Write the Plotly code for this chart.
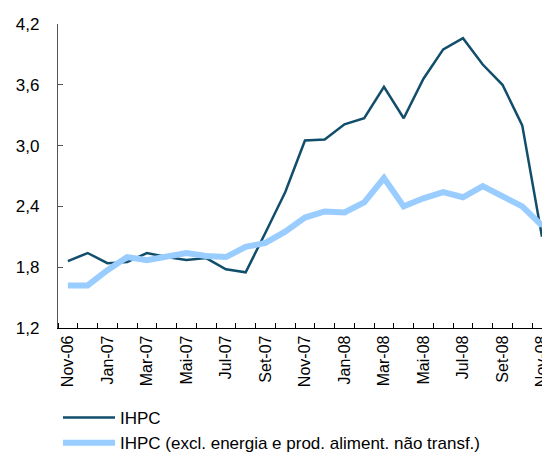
import plotly.graph_objects as go

# monthly series, Nov-06 .. Nov-08
months = ["Nov-06", "Dez-06", "Jan-07", "Fev-07", "Mar-07", "Abr-07", "Mai-07",
          "Jun-07", "Jul-07", "Ago-07", "Set-07", "Out-07", "Nov-07", "Dez-07",
          "Jan-08", "Fev-08", "Mar-08", "Abr-08", "Mai-08", "Jun-08", "Jul-08",
          "Ago-08", "Set-08", "Out-08", "Nov-08"]

ihpc = [1.86, 1.94, 1.84, 1.85, 1.94, 1.90, 1.87, 1.89, 1.78, 1.75, 2.14, 2.54,
        3.05, 3.06, 3.21, 3.27, 3.58, 3.27, 3.66, 3.95, 4.06, 3.80, 3.60, 3.20, 2.10]

ihpc_excl = [1.62, 1.62, 1.77, 1.90, 1.87, 1.90, 1.94, 1.91, 1.90, 2.00, 2.04, 2.15,
             2.29, 2.35, 2.34, 2.44, 2.68, 2.40, 2.48, 2.54, 2.49, 2.60, 2.50, 2.40, 2.21]

y_ticks = [1.2, 1.8, 2.4, 3.0, 3.6, 4.2]

idx = list(range(len(months)))
FONT = "Liberation Sans, Arial, sans-serif"

fig = go.Figure()

fig.add_trace(go.Scatter(
    x=idx, y=ihpc, mode="lines", name="IHPC",
    line=dict(color="#114E6B", width=2.5)
))
fig.add_trace(go.Scatter(
    x=idx, y=ihpc_excl, mode="lines",
    name="IHPC (excl. energia e prod. aliment. não transf.)",
    line=dict(color="#99CCFF", width=6)
))

fig.update_layout(
    width=542, height=453,
    paper_bgcolor="white", plot_bgcolor="white",
    separators=",.",
    font=dict(family=FONT, color="black", size=16),
    margin=dict(l=58, r=0, t=24, b=125),
    showlegend=True,
    legend=dict(
        x=0.0, y=0.117, xref="paper", yref="container",
        xanchor="left", yanchor="top",
        orientation="v", itemwidth=52, tracegroupgap=0,
        font=dict(size=17, family=FONT),
        bgcolor="rgba(0,0,0,0)"
    ),
    xaxis=dict(
        range=[-0.5, len(months) - 1],
        tickmode="array", tickvals=idx[::2], ticktext=months[::2],
        tickangle=-90, ticks="", showgrid=False, zeroline=False,
        showline=True, linecolor="black", linewidth=1.3,
        ticklabeloverflow="allow", automargin=False,
        tickfont=dict(size=16, family=FONT),
        minor=dict(ticks="inside", tickmode="linear", tick0=-0.5, dtick=1,
                   ticklen=5, tickcolor="black", tickwidth=1, showgrid=False),
    ),
    yaxis=dict(
        range=[1.2, 4.2], tickmode="array", tickvals=y_ticks,
        tickformat=".1f", ticks="inside", ticklen=5, tickcolor="#555555",
        showgrid=False, zeroline=False, showline=True,
        linecolor="#555555", linewidth=1.3, ticklabelstandoff=14,
        automargin=False,
        tickfont=dict(size=17, family=FONT),
    ),
)

fig.write_html(
    "out.html",
    config={"displayModeBar": False},
    post_script="document.body.style.margin='0';document.body.style.overflow='hidden';",
)
